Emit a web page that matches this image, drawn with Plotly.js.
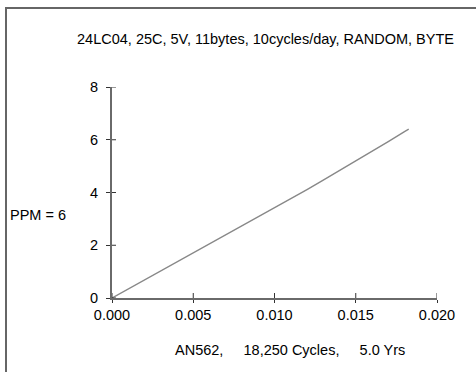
<!DOCTYPE html>
<html>
<head>
<meta charset="utf-8">
<script src="https://cdn.plot.ly/plotly-3.0.1.min.js"></script>
<style>html,body{margin:0;padding:0;background:#fff;}#chart{width:476px;height:372px;}</style>
</head>
<body>
<div id="chart"></div>
<script>
const cycleFraction = [0, 0.001, 0.002, 0.003, 0.004, 0.005, 0.006, 0.007, 0.008, 0.009, 0.010, 0.011, 0.012, 0.013, 0.014, 0.015, 0.016, 0.017, 0.018, 0.01826];
const ppmValues = [0, 0.34, 0.68, 1.02, 1.36, 1.71, 2.05, 2.39, 2.73, 3.07, 3.41, 3.76, 4.11, 4.47, 4.83, 5.19, 5.56, 5.93, 6.31, 6.40];
const xTicks = [0, 0.005, 0.010, 0.015, 0.020];
const xTickLabels = ["0.000", "0.005", "0.010", "0.015", "0.020"];
const yTicks = [0, 2, 4, 6, 8];
const yTickLabels = ["0", "2", "4", "6", "8"];
const titleText = "24LC04, 25C, 5V, 11bytes, 10cycles/day, RANDOM, BYTE";
const footerText = "AN562,&nbsp;&nbsp;&nbsp;&nbsp;&nbsp;18,250 Cycles,&nbsp;&nbsp;&nbsp;&nbsp;&nbsp;5.0 Yrs";
const sideText = "PPM = 6";

const W = 476, H = 372;
const L = 112, R = 39, T = 87, B = 74;
const pw = W - L - R, ph = H - T - B;
const font = {family: "Liberation Sans, Arial, sans-serif", size: 14.5, color: "#000"};

const trace = {
  x: cycleFraction, y: ppmValues, type: "scatter", mode: "lines",
  line: {color: "#888888", width: 1.4}, hoverinfo: "skip", showlegend: false
};

const axisCommon = {showgrid: false, zeroline: false, fixedrange: true};

// crossing tick marks built from the tick arrays (inner part; outer part drawn by axis ticks)
const tickShapes = [];
xTicks.forEach(v => tickShapes.push({type: "line", xref: "x", yref: "y", x0: v, x1: v,
  ysizemode: "pixel", yanchor: 0, y0: 0, y1: 5, line: {color: "#333", width: 1}}));
yTicks.forEach(v => tickShapes.push({type: "line", xref: "x", yref: "y", y0: v, y1: v,
  xsizemode: "pixel", xanchor: 0, x0: 0, x1: 4, line: {color: "#333", width: 1}}));

const layout = {
  width: W, height: H,
  margin: {l: L, r: R, t: T, b: B, pad: 0},
  paper_bgcolor: "#fff", plot_bgcolor: "#fff",
  font: font,
  showlegend: false,
  title: {text: titleText, font: font, xref: "container", yref: "container", x: 265.5 / W, y: 1 - 39 / H, xanchor: "center", yanchor: "middle"},
  xaxis: Object.assign({}, axisCommon, {range: [0, 0.020], tickmode: "array", tickvals: xTicks, ticktext: xTickLabels,
    showline: true, linecolor: "#6a6a6a", linewidth: 2, ticks: "outside", ticklen: 3, tickwidth: 1, tickcolor: "#333", tickfont: font}),
  yaxis: Object.assign({}, axisCommon, {range: [0, 8], tickmode: "array", tickvals: yTicks, ticktext: yTickLabels,
    showline: true, linecolor: "#6a6a6a", linewidth: 2, ticks: "outside", ticklen: 4, tickwidth: 1, tickcolor: "#333", tickfont: font,
    ticklabelstandoff: 5}),
  annotations: [
    {text: sideText, xref: "paper", yref: "paper", x: (38 - L) / pw, y: (H - B - 215) / ph, xanchor: "center", yanchor: "middle", showarrow: false, font: font},
    {text: footerText, xref: "paper", yref: "paper", x: (290 - L) / pw, y: (H - B - 350) / ph, xanchor: "center", yanchor: "middle", showarrow: false, font: font}
  ],
  shapes: [
    {type: "rect", xref: "paper", yref: "paper", x0: (6 - L) / pw, x1: (W + 20 - L) / pw, y0: (H - B - (H + 20)) / ph, y1: (H - B - 8) / ph,
     line: {color: "#666", width: 2}, layer: "below"}
  ].concat(tickShapes)
};

Plotly.newPlot("chart", [trace], layout, {staticPlot: true, displayModeBar: false});
</script>
</body>
</html>
